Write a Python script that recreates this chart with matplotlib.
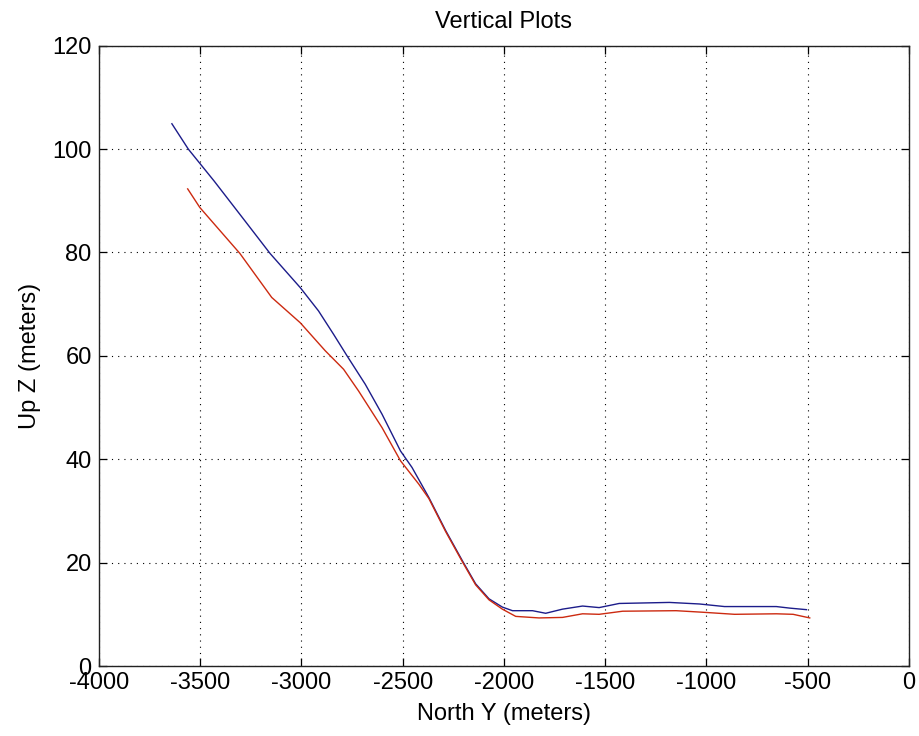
import numpy as np
import matplotlib.pyplot as plt

# blue trace (north y, up z)
blue_y = [-3640, -3559, -3431, -3279, -3155, -3006, -2916, -2842, -2775, -2685,
          -2602, -2511, -2454, -2371, -2288, -2206, -2140, -2074, -2008, -1958,
          -1859, -1794, -1711, -1612, -1530, -1431, -1183, -1035, -911, -655,
          -589, -506]
blue_z = [104.9, 100.0, 93.8, 86.1, 79.8, 73.2, 68.7, 64.2, 60.0, 54.5,
          48.7, 41.6, 38.4, 32.6, 26.2, 20.4, 15.9, 13.0, 11.4, 10.7,
          10.7, 10.2, 11.0, 11.6, 11.3, 12.1, 12.3, 12.0, 11.5, 11.5,
          11.2, 10.9]

# red trace
red_y = [-3562, -3502, -3304, -3147, -3006, -2883, -2792, -2718, -2602, -2511,
         -2421, -2371, -2288, -2206, -2140, -2074, -2008, -1942, -1827, -1711,
         -1612, -1530, -1414, -1150, -1018, -861, -655, -572, -490]
red_z = [92.3, 88.7, 79.8, 71.3, 66.4, 61.0, 57.4, 53.2, 46.1, 39.7,
         35.2, 32.4, 26.0, 20.2, 15.7, 12.8, 11.0, 9.6, 9.3, 9.4,
         10.1, 10.0, 10.6, 10.7, 10.4, 10.0, 10.1, 10.0, 9.3]

plt.rcParams['font.family'] = ['Liberation Sans', 'DejaVu Sans']
plt.rcParams['axes.unicode_minus'] = False

fig = plt.figure(figsize=(9.2, 7.36), dpi=100)
ax = fig.add_axes([0.1076, 0.0951, 0.8804, 0.8428])

ax.plot(blue_y, blue_z, color="#1c1c8a", linewidth=1.0)
ax.plot(red_y, red_z, color="#cc2a10", linewidth=1.0)

ax.set_xlim(-4000, 0)
ax.set_ylim(0, 120)
ax.set_xticks(np.arange(-4000, 1, 500))
ax.set_yticks(np.arange(0, 121, 20))
ax.grid(True, linestyle=(0, (1, 4.6)), color="black", linewidth=0.8)
ax.tick_params(direction="in", top=True, right=True, labelsize=17, length=5.5, width=0.9)
ax.tick_params(axis="x", pad=4.5)
ax.tick_params(axis="y", pad=5.3)
for s in ax.spines.values():
    s.set_linewidth(1.0)
    s.set_color("#222222")

ax.set_title("Vertical Plots", fontsize=17, pad=12.7)
ax.set_xlabel("North Y (meters)", fontsize=17, labelpad=6)
ax.set_ylabel("Up Z (meters)", fontsize=17, labelpad=8)

fig.savefig("out.png", dpi=100)
